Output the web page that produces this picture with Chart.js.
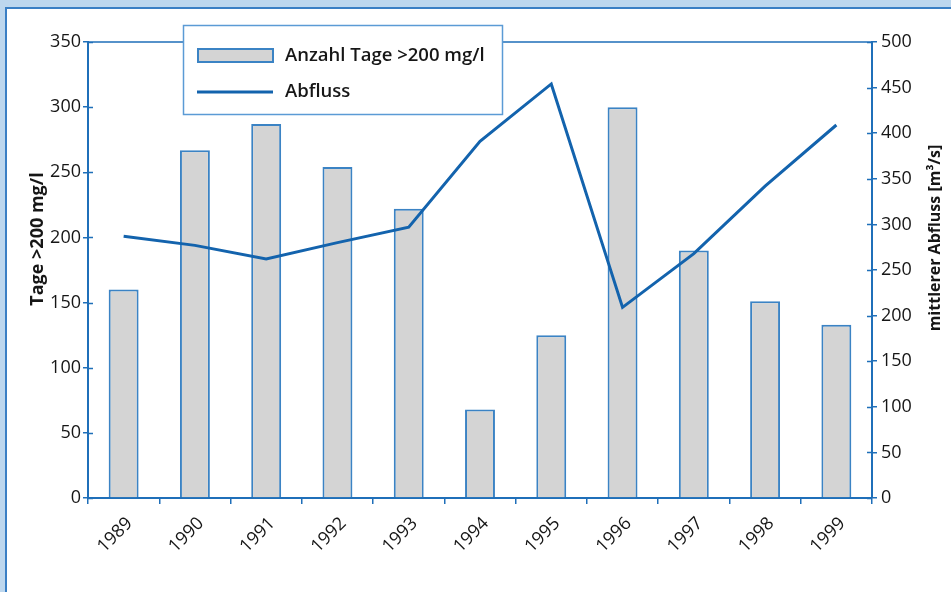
<!DOCTYPE html>
<html>
<head>
<meta charset="utf-8">
<script src="https://cdn.jsdelivr.net/npm/chart.js@4/dist/chart.umd.min.js"></script>
<style>
  html, body { margin: 0; padding: 0; background: #bdd7ee; width: 951px; height: 592px; overflow: hidden; }
  .panel { position: absolute; left: 5px; top: 7px; width: 944px; height: 583px;
           background: #fff; border-left: 2px solid #3a7fc4; border-top: 2px solid #3a7fc4; }
  #chart { position: absolute; left: 0; top: 0; }
</style>
</head>
<body>
<div class="panel"></div>
<canvas id="chart" width="951" height="592"></canvas>
<script>
// Tage mit Chlorid >200 mg/l und mittlerer Abfluss, 1989–1999

const years   = ["1989", "1990", "1991", "1992", "1993", "1994", "1995", "1996", "1997", "1998", "1999"];
const tage    = [160, 267, 287, 254, 222, 68, 125, 300, 190, 151, 133];
const abfluss = [287, 277, 262, 280, 297, 391, 454, 209, 268, 342, 409];

const leftTicks  = [0, 50, 100, 150, 200, 250, 300, 350];
const rightTicks = [0, 50, 100, 150, 200, 250, 300, 350, 400, 450, 500];

const AXIS  = "#1f6fb9";
const LINE  = "#1363ad";
const BAR   = "#d4d4d4";
const BAR_B = "#3b83c4";
const TEXT  = "#161616";
const FONT  = "'Open Sans', 'DejaVu Sans', sans-serif";

// ── Extras: plot frame top, inner tick halves, axis titles, legend box ────
const extras = {
  id: "extras",
  afterDraw(chart) {
    const ctx = chart.ctx;
    const ca  = chart.chartArea;
    const yL  = chart.scales.y;
    const yR  = chart.scales.y2;

    ctx.save();
    ctx.strokeStyle = AXIS;
    ctx.lineWidth = 1.5;
    ctx.beginPath();
    ctx.moveTo(ca.left, ca.top);
    ctx.lineTo(ca.right, ca.top);
    leftTicks.forEach(v => {
      const y = Math.round(yL.getPixelForValue(v)) + 0.5;
      ctx.moveTo(ca.left, y); ctx.lineTo(ca.left + 5, y);
    });
    rightTicks.forEach(v => {
      const y = Math.round(yR.getPixelForValue(v)) + 0.5;
      ctx.moveTo(ca.right - 5, y); ctx.lineTo(ca.right, y);
    });
    ctx.stroke();

    // axis titles
    ctx.fillStyle = TEXT;
    ctx.textAlign = "center";
    ctx.textBaseline = "middle";
    ctx.save();
    ctx.font = "bold 18px " + FONT;
    ctx.translate(38, 239);
    ctx.rotate(-Math.PI / 2);
    ctx.fillText("Tage >200 mg/l", 0, 0);
    ctx.restore();
    ctx.save();
    ctx.font = "bold 16px " + FONT;
    ctx.translate(935, 238);
    ctx.rotate(-Math.PI / 2);
    ctx.fillText("mittlerer Abfluss [m³/s]", 0, 0);
    ctx.restore();

    // legend box
    const bx = 183.5, by = 25.5, bw = 319, bh = 89;
    ctx.fillStyle = "#fff";
    ctx.fillRect(bx, by, bw, bh);
    ctx.strokeStyle = "#5b9bd5";
    ctx.lineWidth = 1.5;
    ctx.strokeRect(bx, by, bw, bh);

    const ds = chart.data.datasets;
    ctx.fillStyle = BAR;
    ctx.fillRect(198, 49, 75, 13);
    ctx.strokeStyle = BAR_B;
    ctx.lineWidth = 2;
    ctx.strokeRect(198, 49, 75, 13);

    ctx.strokeStyle = LINE;
    ctx.lineWidth = 3;
    ctx.beginPath();
    ctx.moveTo(197, 92);
    ctx.lineTo(273, 92);
    ctx.stroke();

    ctx.fillStyle = TEXT;
    ctx.font = "600 18.5px " + FONT;
    ctx.textAlign = "left";
    ctx.fillText(ds[1].label, 285, 56);
    ctx.fillText(ds[0].label, 285, 92);
    ctx.restore();
  }
};

new Chart(document.getElementById("chart"), {
  type: "bar",
  data: {
    labels: years,
    datasets: [
      {
        type: "line",
        label: "Abfluss",
        data: abfluss,
        yAxisID: "y2",
        borderColor: LINE,
        borderWidth: 3,
        pointRadius: 0,
        tension: 0,
        order: 0
      },
      {
        type: "bar",
        label: "Anzahl Tage >200 mg/l",
        data: tage,
        yAxisID: "y",
        backgroundColor: BAR,
        borderColor: BAR_B,
        borderWidth: 2,
        barPercentage: 0.42,
        categoryPercentage: 1,
        order: 1
      }
    ]
  },
  options: {
    responsive: false,
    animation: false,
    devicePixelRatio: 1,
    layout: { padding: { top: 42, left: 0, right: 0, bottom: 0 } },
    plugins: { legend: { display: false }, tooltip: { enabled: false } },
    scales: {
      x: {
        grid: { offset: true, drawOnChartArea: false, tickLength: 6, color: AXIS, lineWidth: 1.5 },
        border: { color: AXIS, width: 2 },
        ticks: { minRotation: 45, maxRotation: 45, labelOffset: 6, padding: 9,
                 color: TEXT, font: { family: FONT, size: 18 } },
        afterFit: s => { s.height = 94; }
      },
      y: {
        position: "left",
        min: 0, max: 350,
        afterBuildTicks: s => { s.ticks = leftTicks.map(v => ({ value: v })); },
        grid: { drawOnChartArea: false, tickLength: 5, color: AXIS, lineWidth: 1.5 },
        border: { color: AXIS, width: 2 },
        ticks: { padding: 2, color: TEXT, font: { family: FONT, size: 18 } },
        afterFit: s => { s.width = 88; }
      },
      y2: {
        position: "right",
        min: 0, max: 500,
        afterBuildTicks: s => { s.ticks = rightTicks.map(v => ({ value: v })); },
        grid: { drawOnChartArea: false, tickLength: 5, color: AXIS, lineWidth: 1.5 },
        border: { color: AXIS, width: 2 },
        ticks: { padding: 4, color: TEXT, font: { family: FONT, size: 18 } },
        afterFit: s => { s.width = 79; }
      }
    }
  },
  plugins: [extras]
});
</script>
</body>
</html>
